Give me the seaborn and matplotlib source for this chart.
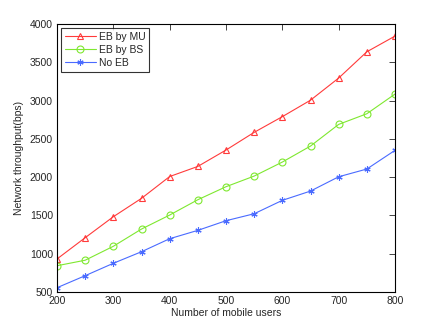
import matplotlib
matplotlib.use('Agg')
import matplotlib.pyplot as plt
import seaborn as sns
import pandas as pd

users = [200, 250, 300, 350, 400, 450, 500, 550, 600, 650, 700, 750, 800]
eb_by_mu = [931, 1209, 1483, 1723, 2008, 2140, 2354, 2585, 2790, 3005, 3294, 3637, 3842]
eb_by_bs = [843, 915, 1097, 1322, 1505, 1705, 1875, 2014, 2197, 2406, 2689, 2828, 3085]
no_eb = [556, 713, 875, 1026, 1196, 1305, 1431, 1522, 1697, 1818, 2005, 2106, 2350]

series = ['EB by MU', 'EB by BS', 'No EB']
colors = ['#ff3b3b', '#7fe830', '#4a6bff']
markers = ['^', 'o', '*']
asterisk = (6, 2, 0)  # matlab-style '*' instead of a star

df = pd.DataFrame({
    'users': users * 3,
    'throughput': eb_by_mu + eb_by_bs + no_eb,
    'scheme': [s for s in series for _ in users],
})

sns.set_style('white')
plt.rcParams['font.family'] = ['Liberation Sans', 'DejaVu Sans']

fig = plt.figure(figsize=(4.36, 3.28), dpi=100)
ax = fig.add_axes([57 / 436, 36 / 328, 338 / 436, 268 / 328])

sns.lineplot(data=df, x='users', y='throughput', hue='scheme', style='scheme',
             hue_order=series, style_order=series, palette=colors,
             markers=markers, dashes=False, linewidth=0.8, markersize=5,
             ax=ax)

def restyle(lines):
    for line, c in zip(lines, colors):
        if line.get_marker() == '*':
            line.set_marker(asterisk)
            line.set_markersize(4.5)
        line.set_markeredgecolor(c)
        line.set_markerfacecolor('none')
        line.set_markeredgewidth(0.8)

restyle(ax.lines)

ax.set_xlim(200, 800)
ax.set_ylim(500, 4000)
ax.set_xticks(range(200, 801, 100))
ax.set_yticks(range(500, 4001, 500))
ax.tick_params(direction='in', top=True, right=True, labelsize=7.5, length=4, width=0.6, pad=3)
for sp in ax.spines.values():
    sp.set_visible(True)
    sp.set_color('black')
    sp.set_linewidth(0.8)
ax.set_xlabel('Number of mobile users', fontsize=7.5, labelpad=1)
ax.set_ylabel('Network throughput(bps)', fontsize=7.5, labelpad=4)

leg = ax.legend(loc='upper left', fontsize=7.5, frameon=True, fancybox=False,
                edgecolor='black', borderaxespad=0.4, handlelength=3.0,
                labelspacing=0.3, borderpad=0.35, handletextpad=0.3)
leg.get_frame().set_linewidth(0.8)
restyle(leg.legend_handles)

fig.savefig('out.png', dpi=100)
